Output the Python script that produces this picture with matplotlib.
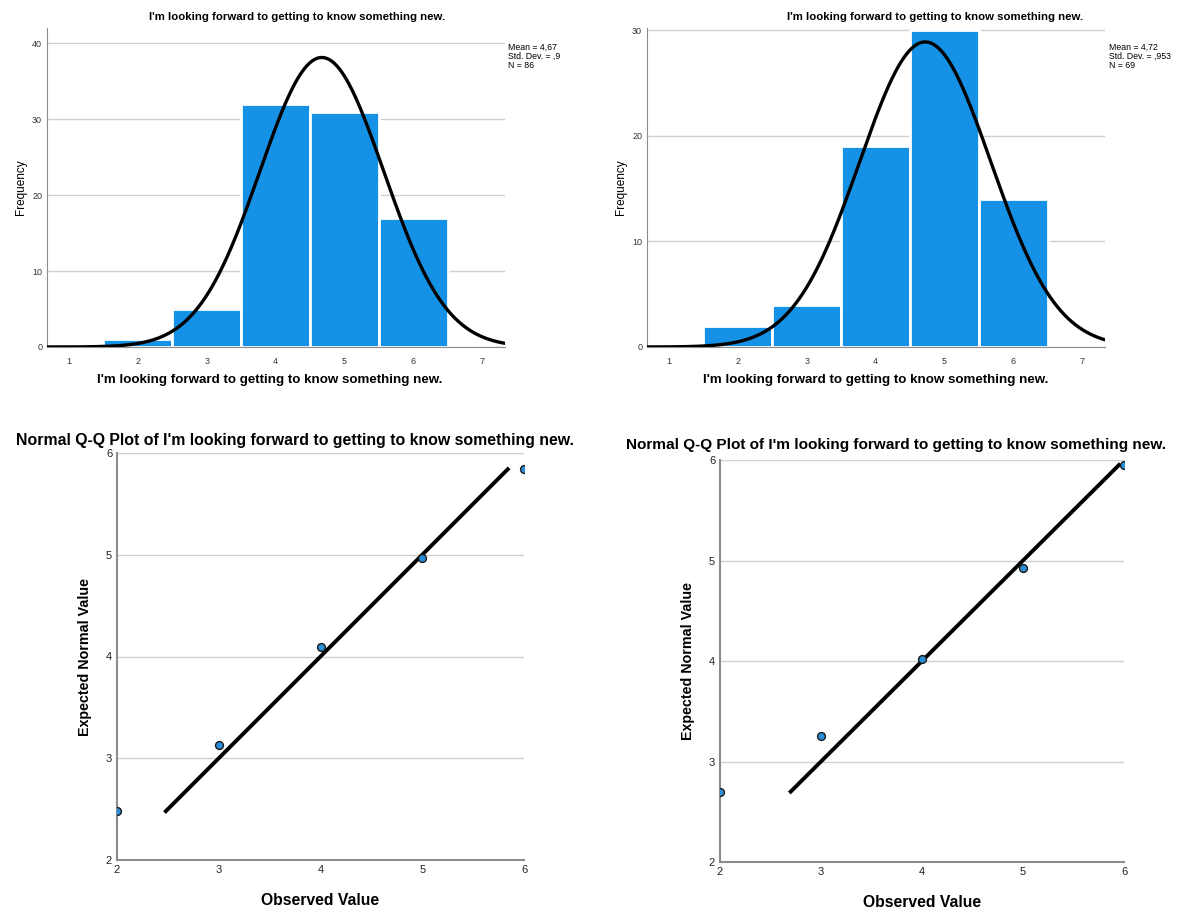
import numpy as np
import matplotlib
matplotlib.use("Agg")
import matplotlib.pyplot as plt

plt.rcParams['font.family'] = ['Liberation Sans', 'DejaVu Sans']

# data
title = "I'm looking forward to getting to know something new."
values = [1, 2, 3, 4, 5, 6]
counts_a = [0, 1, 5, 32, 31, 17]
counts_b = [0, 2, 4, 19, 30, 14]
mean_a, sd_a, n_a = 4.67, 0.9, 86
mean_b, sd_b, n_b = 4.72, 0.953, 69
stats_a = "Mean = 4,67\nStd. Dev. = ,9\nN = 86"
stats_b = "Mean = 4,72\nStd. Dev. = ,953\nN = 69"

qq_obs = [2, 3, 4, 5, 6]
qq_exp_a = [2.48, 3.13, 4.09, 4.97, 5.84]
qq_exp_b = [2.70, 3.25, 4.02, 4.93, 5.95]

W, H = 1180, 913
fig = plt.figure(figsize=(W / 100, H / 100), dpi=100)


def px(l, t, r, b):
    return [l / W, 1 - b / H, (r - l) / W, (b - t) / H]


BLUE = '#1591e6'
GRID = '#d0d0d0'
SPINE = '#8c8c8c'


def hist_panel(box, counts, mean, sd, n, ymax, yticks):
    ax = fig.add_axes(px(*box))
    ax.bar(values, counts, width=1.0, color=BLUE, edgecolor='white', linewidth=2, zorder=2)
    xs = np.linspace(0.5, 7.5, 400)
    ys = n * np.exp(-0.5 * ((xs - mean) / sd) ** 2) / (sd * np.sqrt(2 * np.pi))
    ax.plot(xs, ys, color='black', lw=2.4, zorder=3)
    ax.set_xlim(0.68, 7.33)
    ax.set_ylim(0, ymax)
    ax.set_xticks(range(1, 8))
    ax.set_yticks(yticks)
    ax.tick_params(length=0, labelsize=6.5, colors='#333333')
    ax.tick_params(axis='x', pad=7)
    ax.grid(axis='y', color=GRID, lw=1, zorder=0)
    ax.set_axisbelow(True)
    for s in ['top', 'right']:
        ax.spines[s].set_visible(False)
    for s in ['left', 'bottom']:
        ax.spines[s].set_color(SPINE)
    return ax


def qq_panel(box, exp):
    ax = fig.add_axes(px(*box))
    ax.plot([min(exp), max(exp)], [min(exp), max(exp)], color='black', lw=2.8, zorder=2)
    ax.scatter(qq_obs, exp, s=32, color='#2a8fd8', edgecolor='#1a1a1a', linewidth=1, zorder=3)
    ax.set_xlim(2, 6)
    ax.set_ylim(2, 6)
    ax.set_xticks([2, 3, 4, 5, 6])
    ax.set_yticks([2, 3, 4, 5, 6])
    ax.tick_params(length=0, labelsize=8, colors='#222222')
    ax.grid(axis='y', color=GRID, lw=1, zorder=0)
    ax.set_axisbelow(True)
    for s in ['top', 'right']:
        ax.spines[s].set_visible(False)
    for s in ['left', 'bottom']:
        ax.spines[s].set_color(SPINE)
        ax.spines[s].set_linewidth(1.5)
    return ax


# top histograms
ax1 = hist_panel((47, 28, 505, 347), counts_a, mean_a, sd_a, n_a, 42, [0, 10, 20, 30, 40])
ax1.set_ylabel('Frequency', fontsize=8.5)
ax2 = hist_panel((647, 28, 1105, 347), counts_b, mean_b, sd_b, n_b, 30.2, [0, 10, 20, 30])
ax2.set_ylabel('Frequency', fontsize=8.5)

fig.text(297 / W, 1 - 17 / H, title, ha='center', va='center', fontsize=8.2, weight='bold')
fig.text(935 / W, 1 - 17 / H, title, ha='center', va='center', fontsize=8.2, weight='bold')
fig.text(270 / W, 1 - 380 / H, title, ha='center', va='center', fontsize=9.6, weight='bold')
fig.text(876 / W, 1 - 380 / H, title, ha='center', va='center', fontsize=9.6, weight='bold')
fig.text(508 / W, 1 - 43 / H, stats_a, ha='left', va='top', fontsize=6.3, linespacing=1.0)
fig.text(1109 / W, 1 - 43 / H, stats_b, ha='left', va='top', fontsize=6.3, linespacing=1.0)

# bottom Q-Q plots
ax3 = qq_panel((117, 453, 524, 860), qq_exp_a)
ax4 = qq_panel((720, 460, 1124, 862), qq_exp_b)
for ax in (ax3, ax4):
    ax.set_ylabel('Expected Normal Value', fontsize=10.3, weight='bold', labelpad=10)
    ax.set_xlabel('Observed Value', fontsize=11.3, weight='bold', labelpad=13)

fig.text(295 / W, 1 - 440 / H, 'Normal Q-Q Plot of ' + title, ha='center', va='center',
         fontsize=11.4, weight='bold')
fig.text(896 / W, 1 - 445 / H, 'Normal Q-Q Plot of ' + title, ha='center', va='center',
         fontsize=11.1, weight='bold')

fig.savefig('out.png', dpi=100)
